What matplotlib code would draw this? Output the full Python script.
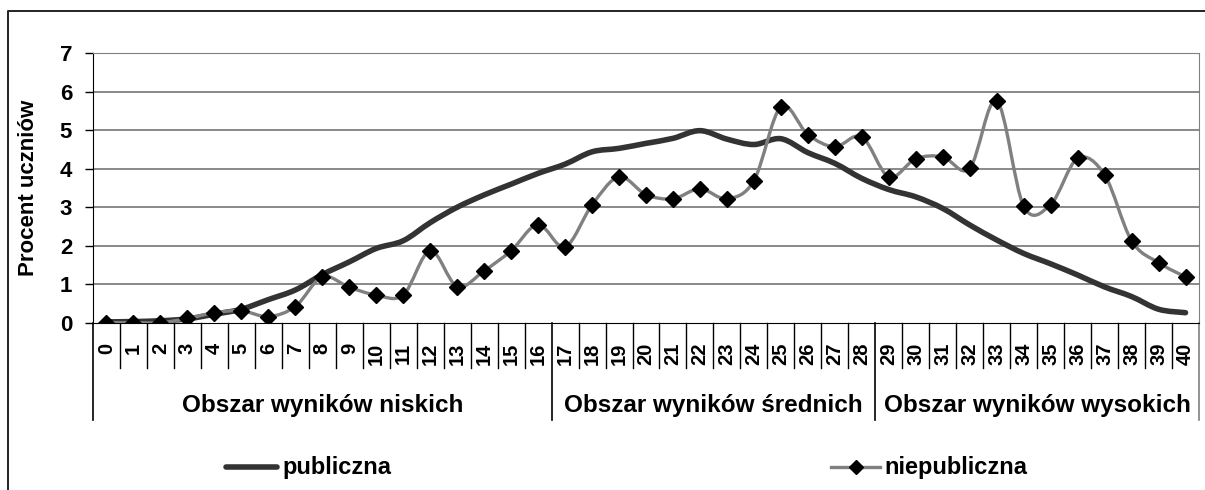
import numpy as np
import matplotlib.pyplot as plt
from matplotlib.path import Path
from matplotlib.patches import PathPatch
from matplotlib.lines import Line2D

plt.rcParams['font.family'] = ['Liberation Sans', 'DejaVu Sans']
plt.rcParams['font.weight'] = 'bold'
plt.rcParams['axes.labelweight'] = 'bold'

# Wyniki (punkty 0-40) i odsetek uczniow
scores = list(range(41))
publiczna = [0.02, 0.03, 0.05, 0.10, 0.22, 0.35, 0.60, 0.85, 1.25, 1.58,
             1.93, 2.13, 2.60, 3.00, 3.32, 3.60, 3.88, 4.12, 4.44, 4.53,
             4.66, 4.79, 4.99, 4.77, 4.63, 4.78, 4.42, 4.14, 3.75, 3.46,
             3.27, 2.97, 2.54, 2.15, 1.80, 1.53, 1.24, 0.93, 0.68, 0.35, 0.26]
niepubliczna = [0.0, 0.0, 0.0, 0.11, 0.26, 0.31, 0.16, 0.42, 1.19, 0.92,
                0.72, 0.72, 1.87, 0.94, 1.35, 1.87, 2.55, 1.97, 3.06, 3.79,
                3.33, 3.22, 3.48, 3.22, 3.69, 5.61, 4.89, 4.57, 4.83, 3.79,
                4.26, 4.31, 4.01, 5.77, 3.03, 3.07, 4.27, 3.84, 2.13, 1.56, 1.19]
groups = ['Obszar wyników niskich', 'Obszar wyników średnich', 'Obszar wyników wysokich']
group_edges = [0, 17, 29, 41]


def smooth_path(x, y):
    # wygladzona linia jak w Excelu (krzywe Beziera przez punkty)
    pts = np.column_stack([x, y]).astype(float)
    verts = [pts[0]]
    codes = [Path.MOVETO]
    n = len(pts)
    for i in range(n - 1):
        p0 = pts[max(i - 1, 0)]
        p1 = pts[i]
        p2 = pts[i + 1]
        p3 = pts[min(i + 2, n - 1)]
        verts += [p1 + (p2 - p0) / 6, p2 - (p3 - p1) / 6, p2]
        codes += [Path.CURVE4] * 3
    return Path(verts, codes)


fig = plt.figure(figsize=(12.05, 4.9), dpi=100)
ax = fig.add_axes([93 / 1205, 167.3 / 490, 1106 / 1205, 269.4 / 490])

ax.set_xlim(-0.5, 40.5)
ax.set_ylim(0, 7)
for v in range(1, 8):
    ax.axhline(v, color='#808080', lw=1.3, zorder=1)

ax.add_patch(PathPatch(smooth_path(scores, publiczna), fill=False,
                       ec='#333333', lw=4.0, capstyle='round', zorder=3))
ax.add_patch(PathPatch(smooth_path(scores, niepubliczna), fill=False,
                       ec='#808080', lw=2.4, capstyle='round', zorder=4))
ax.plot(scores, niepubliczna, ls='none', marker='D', ms=8, color='black', zorder=5)

ax.spines['left'].set_color('black')
ax.spines['bottom'].set_color('black')
ax.spines['top'].set_color('#808080')
ax.spines['right'].set_color('#808080')
ax.set_yticks(range(8))
ax.tick_params(axis='y', direction='out', length=6, width=1, pad=9, labelsize=16)
ax.set_xticks([])
ax.set_ylabel('Procent uczniów', fontsize=16)
ax.yaxis.set_label_coords(-54 / 1106, 0.5)

# etykiety osi X w komorkach
tr = ax.get_xaxis_transform()
for k in range(1, 41):
    if k in group_edges:
        continue
    ax.plot([k - 0.5, k - 0.5], [0, -0.168], color='black', lw=1, transform=tr, clip_on=False)
for k in group_edges:
    col = '#808080' if k == 41 else 'black'
    ax.plot([k - 0.5, k - 0.5], [0, -0.361], color=col, lw=1.2, transform=tr, clip_on=False)
for s in scores:
    ax.text(s, -0.075, str(s), rotation=90, ha='center', va='top', fontsize=14.5,
            transform=tr, clip_on=False)
for i, g in enumerate(groups):
    xc = (group_edges[i] + group_edges[i + 1] - 1) / 2
    ax.text(xc, -0.3055, g, ha='center', va='center', fontsize=17.5, transform=tr)

# legenda
ly = 1 - 467 / 490
fig.add_artist(Line2D([226 / 1205, 277 / 1205], [ly, ly], color='#333333', lw=4.0,
                      solid_capstyle='round', transform=fig.transFigure))
fig.text(282 / 1205, ly, 'publiczna', fontsize=17, va='center', ha='left')
fig.add_artist(Line2D([831 / 1205, 880 / 1205], [ly, ly], color='#808080', lw=2.4,
                      transform=fig.transFigure))
fig.add_artist(Line2D([855.5 / 1205], [ly], marker='D', ms=7, color='black',
                      transform=fig.transFigure))
fig.text(884 / 1205, ly, 'niepubliczna', fontsize=17, va='center', ha='left')

# ramka wykresu
fx, fy = 8 / 1205, 1 - 11 / 490
fig.add_artist(Line2D([fx, fx, 1.0], [0.0, fy, fy], color='#222222', lw=1.4,
                      transform=fig.transFigure))

fig.savefig('out.png', dpi=100)
